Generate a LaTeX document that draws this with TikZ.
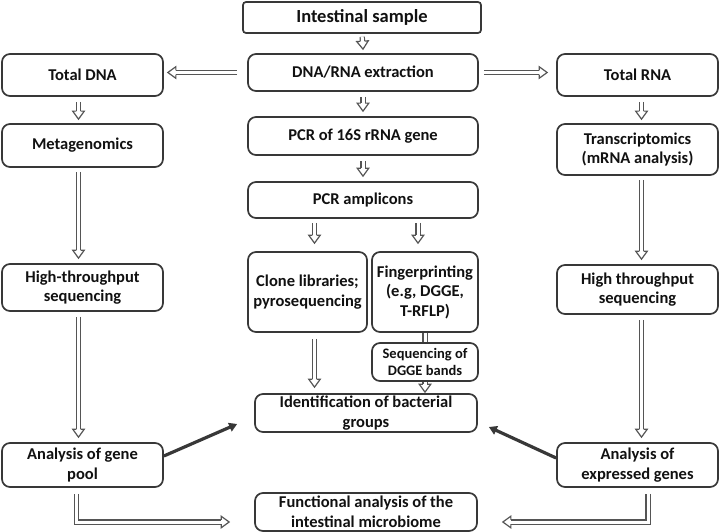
\documentclass[tikz,border=0pt]{standalone}
\usepackage{fontspec}
\setmainfont{Carlito}
\usetikzlibrary{arrows.meta,decorations.markings}
\definecolor{boxc}{HTML}{383838}
\definecolor{arrc}{HTML}{555555}
\definecolor{txtc}{HTML}{111111}
\newcommand\placebox[7][]{\node[box,minimum width={(#4-#2)*1pt},minimum height={(#5-#3)*1pt},#1] (#6) at ({(#2+#4)/2},{(#3+#5)/2}) {#7};}
\begin{document}
\begin{tikzpicture}[x=1pt,y=-1pt,
  box/.style={draw=boxc, line width=1.7pt, rounded corners=8pt, fill=white, align=center,
    font=\bfseries\fontsize{16.5}{19.5}\selectfont, text=txtc, inner sep=2pt},
  dline/.style={draw=arrc, line width=1.2pt, double=white, double distance=3pt},
  darrow/.style={dline, shorten >=8pt,
    postaction={decorate, decoration={markings, mark=at position 1 with {
      \draw[arrc, line width=1.2pt, fill=white, shorten >=0pt, shorten <=0pt, line join=miter]
        (-8pt,2.1pt) -- (-8pt,5.8pt) -- (0pt,0pt) -- (-8pt,-5.8pt) -- (-8pt,-2.1pt);}}}},
  tarrow/.style={draw=boxc, line width=3.2pt, -{Triangle[length=8pt,width=9pt]}}]
\useasboundingbox (0,0) rectangle (720,532);
\placebox[rounded corners=3pt,font=\bfseries\fontsize{18.5}{21}\selectfont]{243}{2}{481}{33}{is}{Intestinal sample}
\placebox{248}{54}{478}{91}{dre}{DNA/RNA extraction}
\placebox{2}{54}{163}{96}{tdna}{Total DNA}
\placebox{557}{54}{718}{96}{trna}{Total RNA}
\placebox{248}{117}{478}{155}{pcr}{PCR of 16S rRNA gene}
\placebox{2}{124}{163}{167}{meta}{Metagenomics}
\placebox{557}{124}{718}{175}{trans}{Transcriptomics\\(mRNA analysis)}
\placebox{248}{182}{478}{218}{amp}{PCR amplicons}
\placebox{2}{264}{163}{311}{hts1}{High-throughput\\sequencing}
\placebox{557}{265}{718}{314}{hts2}{High throughput\\sequencing}
\placebox{248}{252}{367}{332}{clone}{Clone libraries;\\pyrosequencing}
\placebox{372}{252}{478}{332}{fing}{Fingerprinting\\(e.g, DGGE,\\T-RFLP)}
\placebox[font=\bfseries\fontsize{14.5}{16.5}\selectfont]{372}{343}{478}{381}{seq}{Sequencing of\\DGGE bands}
\placebox{255}{394}{477}{432}{ident}{Identification of bacterial\\groups}
\placebox{2}{443}{163}{487}{gp}{Analysis of gene\\pool}
\placebox{557}{443}{718}{487}{eg}{Analysis of\\expressed genes}
\placebox{255}{493}{477}{531}{func}{Functional analysis of the\\intestinal microbiome}
% helper coordinates
\coordinate (cA) at ([xshift=7pt]clone.north |- amp.south);
\coordinate (fA) at ([xshift=-7pt]fing.north |- amp.south);
\coordinate (cI) at ([xshift=7pt]clone.south |- ident.north);
\coordinate (sI) at (seq.south |- ident.north);
\coordinate (dL) at (dre.west -| tdna.east);
\coordinate (dR) at (dre.east -| trna.west);
% center column
\draw[darrow, shorten <=3pt] (is.south) -- ([yshift=4pt]dre.north);
\draw[darrow, shorten <=10pt] (dre.west) -- ([xshift=4pt]dL);
\draw[darrow, shorten <=5pt] (dre.east) -- ([xshift=-9pt]dR);
\draw[darrow, shorten <=5pt] (dre.south) -- ([yshift=5pt]pcr.north);
\draw[darrow, shorten <=5pt] (pcr.south) -- ([yshift=5pt]amp.north);
\draw[darrow, shorten <=4pt] (cA) -- ([xshift=7pt,yshift=8pt]clone.north);
\draw[darrow, shorten <=4pt] (fA) -- ([xshift=-7pt,yshift=8pt]fing.north);
\draw[darrow, shorten <=6pt] ([xshift=7pt]clone.south) -- ([yshift=6pt]cI);
\draw[dline] (fing.south) -- (seq.north);
\draw[darrow] (seq.south) -- ([yshift=1pt]sI);
% left column
\draw[darrow, shorten <=5pt] ([xshift=-4pt]tdna.south) -- ([xshift=-4pt,yshift=4pt]meta.north);
\draw[darrow, shorten <=4pt] ([xshift=-4pt]meta.south) -- ([xshift=-4pt,yshift=5pt]hts1.north);
\draw[darrow, shorten <=5pt] ([xshift=-4pt]hts1.south) -- ([xshift=-4pt,yshift=5pt]gp.north);
% right column
\draw[darrow, shorten <=5pt] ([xshift=4pt]trna.south) -- ([xshift=4pt,yshift=4pt]trans.north);
\draw[darrow, shorten <=4pt] ([xshift=4pt]trans.south) -- ([xshift=4pt,yshift=5pt]hts2.north);
\draw[darrow, shorten <=5pt] ([xshift=4pt]hts2.south) -- ([xshift=4pt,yshift=5pt]eg.north);
% thick arrows
\draw[tarrow] ([yshift=9pt]gp.east) -- ([xshift=-17pt,yshift=-11pt]ident.west);
\draw[tarrow] ([yshift=7pt]eg.west) -- ([xshift=11pt,yshift=-14pt]ident.east);
% elbows
\draw[darrow, shorten <=6pt] ([xshift=-6pt]gp.south) |- ([xshift=-25pt,yshift=-10pt]func.west);
\draw[darrow, shorten <=6pt] ([xshift=10.5pt]eg.south) |- ([xshift=25pt,yshift=-10pt]func.east);
\end{tikzpicture}
\end{document}
